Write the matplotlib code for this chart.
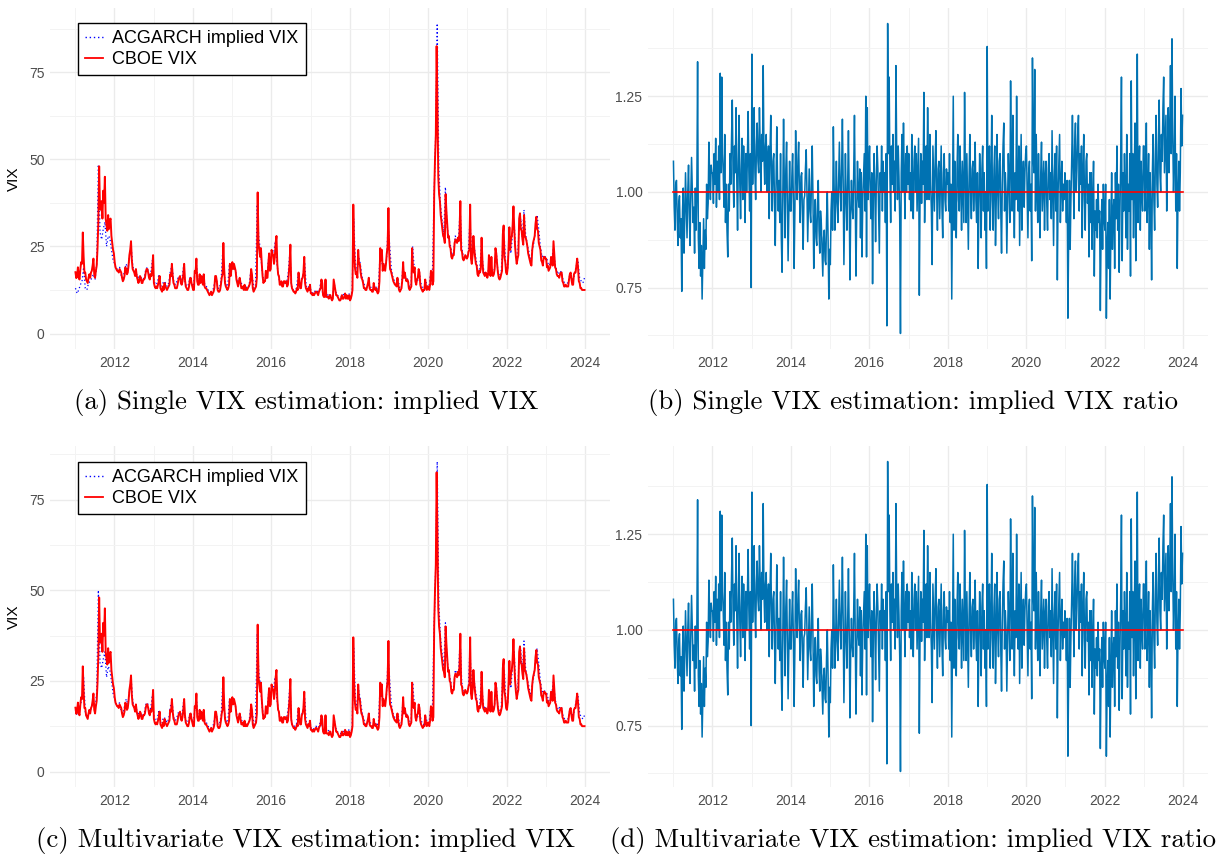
import numpy as np
import pandas as pd
import matplotlib
matplotlib.use("Agg")
import matplotlib.pyplot as plt
from matplotlib.lines import Line2D
from matplotlib.ticker import FixedLocator

# CBOE VIX, four readings per month, Jan 2011 - Dec 2023
cboe_vix = [
    17.6, 15.9, 16.5, 19.0, 16.0, 15.5, 18.5, 20.5, 20.0, 29.0, 22.0, 17.5, 17.5, 15.5, 15.0, 14.5, 16.0, 17.0, 16.0, 17.5, 18.0, 19.5, 21.5, 17.0,
    16.0, 18.0, 19.5, 24.5, 32.0, 48.0, 36.0, 35.5, 38.0, 33.0, 41.0, 37.5, 45.0, 33.0, 31.0, 29.5, 34.0, 30.0, 32.5, 33.0, 28.0, 26.0, 24.0, 23.0,
    20.5, 19.0, 18.5, 18.0, 18.0, 17.5, 18.5, 18.0, 17.5, 16.0, 15.0, 15.5, 16.5, 19.0, 18.5, 17.0, 17.5, 19.5, 22.5, 24.0, 26.5, 21.0, 18.5, 18.0,
    17.5, 16.5, 18.5, 16.5, 15.5, 14.5, 15.0, 16.5, 16.0, 14.5, 14.5, 15.5, 15.5, 16.0, 17.5, 18.5, 18.5, 17.5, 16.0, 15.5, 17.0, 16.5, 18.5, 22.5,
    14.5, 13.5, 13.0, 13.5, 13.0, 14.0, 15.0, 16.5, 13.0, 12.5, 12.0, 13.5, 12.5, 14.5, 13.5, 13.0, 12.5, 13.0, 13.5, 14.0, 17.0, 16.5, 20.0, 16.5,
    14.5, 14.0, 13.0, 13.0, 13.0, 14.0, 15.5, 16.0, 16.5, 14.5, 14.0, 15.0, 17.0, 20.0, 15.5, 13.5, 13.0, 12.5, 12.5, 13.5, 15.5, 16.0, 14.5, 13.5,
    12.5, 12.5, 18.0, 17.5, 21.5, 15.0, 14.0, 14.0, 17.0, 14.5, 16.5, 15.0, 14.0, 17.0, 13.5, 13.0, 13.0, 12.5, 12.0, 11.5, 11.0, 11.5, 12.0, 11.0,
    11.5, 12.0, 13.0, 16.5, 16.5, 15.0, 12.5, 12.0, 12.0, 12.5, 14.0, 16.0, 17.0, 26.0, 18.5, 14.5, 13.5, 13.0, 12.5, 13.0, 14.0, 20.0, 16.5, 19.0,
    20.5, 18.5, 20.0, 19.0, 18.0, 15.5, 14.5, 13.5, 15.0, 16.0, 14.5, 13.0, 13.0, 13.5, 12.5, 14.0, 12.5, 13.0, 12.5, 13.0, 13.5, 14.0, 15.0, 18.5,
    17.0, 13.0, 12.0, 12.5, 13.0, 13.5, 16.0, 40.5, 26.0, 24.0, 22.0, 24.5, 20.0, 16.5, 14.5, 15.0, 15.0, 18.0, 16.0, 16.0, 20.0, 23.0, 18.0, 18.5,
    24.0, 23.0, 22.5, 20.0, 22.0, 26.0, 28.0, 20.0, 17.0, 16.5, 14.0, 14.0, 15.0, 13.5, 13.5, 15.0, 15.0, 14.5, 15.0, 13.5, 14.0, 17.0, 20.0, 25.5,
    14.5, 13.0, 12.5, 12.0, 12.0, 11.5, 12.0, 13.0, 12.5, 17.5, 15.0, 13.0, 13.0, 15.5, 16.0, 17.5, 22.0, 14.5, 13.0, 12.5, 12.0, 13.0, 12.5, 14.0,
    11.5, 11.5, 11.0, 11.5, 11.0, 11.5, 12.0, 12.0, 11.5, 11.0, 12.0, 12.5, 13.0, 15.5, 14.5, 11.0, 10.5, 10.5, 15.5, 10.5, 10.5, 10.5, 10.0, 11.0,
    11.0, 10.0, 9.5, 10.0, 15.5, 14.0, 12.5, 11.0, 11.0, 10.5, 10.0, 9.5, 9.5, 10.0, 11.0, 10.0, 10.0, 10.5, 11.5, 10.0, 11.0, 10.0, 10.0, 11.0,
    9.5, 10.0, 11.0, 12.5, 37.0, 25.0, 19.0, 17.0, 17.5, 16.0, 24.0, 20.0, 20.0, 17.5, 16.0, 15.5, 14.5, 13.0, 13.0, 12.5, 12.5, 13.5, 14.5, 16.0,
    13.0, 12.5, 12.5, 12.0, 12.0, 14.5, 13.0, 12.5, 13.0, 12.0, 11.5, 12.0, 15.0, 24.5, 21.0, 24.0, 18.0, 20.0, 19.0, 18.0, 20.0, 23.0, 25.0, 36.0,
    23.0, 18.5, 18.0, 17.0, 16.0, 15.0, 14.5, 14.0, 14.0, 13.5, 16.0, 14.0, 12.5, 12.0, 12.5, 13.0, 15.5, 20.5, 16.0, 17.5, 16.0, 15.0, 15.5, 15.0,
    13.0, 12.5, 13.0, 13.5, 24.5, 19.0, 17.5, 19.0, 15.0, 14.0, 15.5, 16.0, 18.5, 17.5, 14.0, 13.0, 12.5, 12.0, 12.5, 12.5, 15.5, 13.5, 12.5, 13.5,
    13.5, 12.5, 14.0, 18.0, 17.5, 14.0, 15.0, 40.0, 50.0, 57.0, 82.5, 65.0, 45.0, 40.0, 38.0, 34.0, 32.0, 30.0, 28.0, 27.5, 26.0, 40.0, 35.0, 31.0,
    27.5, 28.0, 25.0, 24.5, 22.0, 21.5, 22.5, 22.5, 26.0, 27.0, 26.5, 26.0, 27.5, 26.5, 29.0, 38.0, 24.0, 23.5, 21.5, 21.0, 21.5, 22.5, 22.0, 21.5,
    22.0, 23.5, 24.0, 37.0, 21.5, 20.0, 22.5, 28.0, 24.5, 22.0, 20.0, 19.5, 17.0, 16.5, 18.0, 17.5, 18.5, 27.5, 21.0, 17.5, 17.0, 16.5, 17.5, 17.0,
    16.0, 17.0, 22.5, 17.5, 16.5, 22.0, 17.0, 16.5, 17.0, 18.5, 24.5, 23.0, 20.0, 17.5, 16.0, 15.5, 16.0, 17.0, 18.0, 28.5, 31.0, 22.0, 20.5, 17.5,
    17.0, 19.0, 24.0, 30.5, 24.0, 27.0, 28.0, 31.0, 36.5, 30.0, 25.0, 22.0, 20.0, 21.5, 22.5, 33.0, 34.5, 30.0, 29.5, 27.0, 25.5, 34.0, 28.0, 27.5,
    26.5, 25.0, 23.0, 22.0, 21.0, 20.0, 19.5, 24.0, 26.0, 27.0, 28.0, 31.5, 33.5, 30.0, 29.5, 26.0, 25.0, 24.0, 21.0, 20.5, 19.5, 22.0, 22.0, 21.5,
    21.5, 19.0, 19.5, 18.0, 18.5, 19.0, 22.0, 21.0, 19.5, 26.5, 22.5, 19.0, 18.5, 17.0, 16.5, 16.5, 16.0, 17.0, 17.5, 17.5, 15.0, 14.5, 13.5, 13.5,
    14.0, 13.5, 13.5, 13.5, 15.5, 17.0, 17.5, 15.5, 14.0, 14.0, 17.0, 17.5, 17.5, 19.5, 21.5, 19.0, 15.0, 14.5, 13.0, 13.0, 12.5, 12.5, 12.5, 12.5,
]

# ACGARCH implied VIX, single estimation (two readings per month)
implied_single = [
    13.0, 11.5, 12.5, 14.0, 15.0, 19.0, 13.0, 12.5, 14.5, 15.0, 16.0, 17.0, 15.5, 20.0, 48.5, 29.0, 27.0, 30.0, 32.0, 25.0, 28.0, 27.5, 24.0, 21.0,
    20.0, 18.5, 18.5, 19.0, 16.5, 16.0, 18.0, 20.0, 18.5, 22.0, 25.0, 19.5, 17.5, 18.0, 15.5, 16.5, 16.0, 15.5, 16.0, 18.5, 19.0, 16.5, 17.5, 21.0,
    15.0, 14.0, 14.5, 17.0, 13.5, 14.0, 15.0, 14.5, 13.5, 14.5, 18.0, 19.5, 15.0, 14.0, 15.0, 16.5, 16.0, 15.5, 19.0, 14.5, 13.5, 14.0, 16.0, 14.5,
    13.5, 17.5, 19.5, 14.5, 16.5, 16.0, 16.5, 14.0, 13.5, 12.5, 12.0, 12.0, 12.5, 14.5, 16.0, 13.0, 13.0, 15.5, 24.0, 16.5, 14.0, 13.5, 19.5, 17.5,
    20.0, 19.0, 17.5, 14.5, 15.5, 15.0, 13.5, 13.5, 13.5, 13.0, 13.5, 17.5, 16.5, 13.0, 14.0, 37.0, 27.5, 24.0, 18.0, 15.0, 15.5, 16.5, 21.5, 18.0,
    23.5, 23.0, 26.0, 20.5, 16.5, 14.5, 15.0, 14.0, 15.0, 14.5, 17.5, 23.5, 13.5, 12.5, 12.5, 13.0, 17.0, 15.5, 15.5, 16.5, 20.5, 13.5, 13.0, 14.0,
    12.0, 11.5, 12.0, 12.5, 12.0, 12.5, 15.0, 11.5, 11.0, 11.0, 11.0, 11.5, 10.5, 10.0, 14.5, 12.0, 11.0, 10.5, 10.5, 10.5, 11.5, 10.5, 10.5, 11.5,
    10.5, 12.0, 33.0, 20.5, 17.5, 22.0, 20.0, 16.5, 14.5, 13.5, 13.0, 14.5, 13.5, 13.0, 12.5, 13.0, 13.5, 12.5, 22.0, 21.0, 18.5, 19.5, 21.0, 31.0,
    25.0, 18.5, 16.0, 15.0, 14.5, 16.0, 13.0, 13.0, 19.0, 16.0, 16.0, 15.5, 13.5, 13.5, 25.0, 18.5, 15.5, 15.0, 18.0, 14.5, 13.0, 13.0, 15.0, 13.5,
    13.5, 17.5, 16.0, 38.0, 56.0, 89.0, 47.0, 37.0, 32.5, 28.5, 42.0, 31.0, 27.5, 25.5, 22.5, 23.0, 28.0, 27.0, 27.0, 36.0, 24.5, 22.0, 22.0, 22.0,
    23.0, 33.0, 22.5, 26.5, 23.5, 20.5, 17.5, 18.5, 25.5, 19.0, 17.5, 17.5, 17.0, 21.0, 17.0, 17.5, 18.5, 24.0, 18.0, 16.5, 17.0, 25.0, 27.0, 18.5,
    18.5, 27.0, 23.0, 28.5, 32.0, 23.0, 21.0, 30.0, 33.0, 27.5, 35.5, 28.5, 25.5, 23.5, 20.5, 24.0, 26.0, 30.0, 34.0, 30.0, 25.0, 22.0, 22.5, 22.0,
    21.5, 19.5, 20.0, 21.5, 24.5, 20.0, 18.0, 17.0, 18.0, 17.5, 15.0, 14.5, 14.5, 14.5, 17.0, 16.5, 15.0, 17.5, 19.5, 20.5, 16.0, 15.0, 14.5, 16.0,
]

# ACGARCH implied VIX, multivariate estimation (two readings per month)
implied_multi = [
    17.0, 15.5, 16.0, 18.5, 20.0, 26.0, 16.5, 15.0, 16.0, 16.5, 18.0, 19.5, 17.0, 22.0, 50.0, 30.0, 28.5, 31.0, 33.0, 26.0, 29.0, 28.0, 25.0, 21.5,
    20.0, 18.5, 18.5, 19.0, 16.5, 16.0, 18.0, 20.0, 18.5, 22.0, 25.5, 19.5, 17.5, 18.0, 15.5, 16.5, 16.0, 15.5, 16.0, 18.5, 19.0, 16.5, 17.5, 21.0,
    15.0, 14.0, 14.5, 17.0, 13.5, 14.0, 15.0, 14.5, 13.5, 14.5, 18.0, 19.5, 15.0, 14.0, 15.0, 16.5, 16.0, 15.5, 19.0, 14.5, 13.5, 14.0, 16.0, 14.5,
    13.5, 17.5, 19.5, 14.5, 16.5, 16.0, 16.5, 14.0, 13.5, 12.5, 12.0, 12.0, 12.5, 14.5, 16.0, 13.0, 13.0, 15.5, 24.5, 16.5, 14.0, 13.5, 19.5, 17.5,
    20.0, 19.0, 17.5, 14.5, 15.5, 15.0, 13.5, 13.5, 13.5, 13.0, 13.5, 17.5, 16.5, 13.0, 14.0, 38.0, 27.5, 24.0, 18.0, 15.0, 15.5, 16.5, 21.5, 18.0,
    23.5, 23.0, 26.0, 20.5, 16.5, 14.5, 15.0, 14.0, 15.0, 14.5, 17.5, 24.0, 13.5, 12.5, 12.5, 13.0, 17.0, 15.5, 15.5, 16.5, 20.5, 13.5, 13.0, 14.0,
    12.0, 11.5, 12.0, 12.5, 12.0, 12.5, 15.0, 11.5, 11.0, 11.0, 11.0, 11.5, 10.5, 10.0, 14.5, 12.0, 11.0, 10.5, 10.5, 10.5, 11.5, 10.5, 10.5, 11.5,
    10.5, 12.0, 34.0, 20.5, 17.5, 22.5, 20.0, 16.5, 14.5, 13.5, 13.0, 14.5, 13.5, 13.0, 12.5, 13.0, 13.5, 12.5, 22.5, 21.0, 18.5, 19.5, 21.0, 32.0,
    25.0, 18.5, 16.0, 15.0, 14.5, 16.0, 13.0, 13.0, 19.0, 16.0, 16.0, 15.5, 13.5, 13.5, 24.5, 18.5, 15.5, 15.0, 18.0, 14.5, 13.0, 13.0, 15.0, 13.5,
    13.5, 17.5, 16.0, 38.5, 55.0, 85.5, 46.0, 37.0, 32.5, 28.5, 41.0, 31.0, 27.5, 25.5, 22.5, 23.0, 28.0, 27.0, 27.0, 36.5, 24.5, 22.0, 22.0, 22.0,
    23.0, 34.0, 22.5, 27.0, 23.5, 20.5, 17.5, 18.5, 26.0, 19.0, 17.5, 17.5, 17.0, 21.5, 17.0, 17.5, 18.5, 24.5, 18.0, 16.5, 17.0, 26.0, 28.0, 18.5,
    18.5, 28.0, 23.0, 29.0, 33.0, 23.0, 21.0, 30.5, 33.5, 27.5, 36.0, 28.5, 25.5, 23.5, 20.5, 24.0, 26.0, 30.5, 34.0, 30.0, 25.0, 22.0, 22.5, 22.0,
    21.5, 19.5, 20.0, 21.5, 25.0, 20.0, 18.0, 17.0, 18.0, 17.5, 15.0, 14.5, 14.5, 14.5, 17.0, 16.5, 15.0, 17.5, 19.5, 21.0, 16.0, 15.0, 14.5, 15.5,
]

# implied / CBOE VIX ratio, weekly
vix_ratio = [
    1.08, 0.96, 0.90, 1.02, 1.03, 0.93, 0.86, 0.97, 0.99, 0.88, 0.93, 0.74, 0.95,
    1.01, 0.84, 0.93, 1.05, 0.96, 0.88, 1.00, 1.07, 0.94, 0.86, 0.99, 1.09, 1.00,
    0.92, 0.96, 0.84, 1.01, 0.90, 1.00, 1.34, 0.88, 0.80, 0.92, 0.78, 0.86, 0.72,
    0.83, 0.93, 0.80, 0.90, 0.85, 1.02, 0.93, 0.97, 1.13, 1.04, 0.98, 1.07, 1.05,
    1.05, 0.97, 1.10, 1.02, 1.14, 0.96, 1.08, 1.00, 1.12, 0.98, 1.31, 1.05, 1.30,
    1.10, 1.05, 0.96, 1.15, 0.92, 1.02, 0.90, 0.83, 1.02, 0.95, 1.10, 1.02, 1.14,
    1.24, 1.05, 0.96, 1.12, 1.05, 1.22, 1.03, 0.90, 1.08, 1.20, 1.02, 0.93, 1.06,
    1.14, 0.98, 1.12, 1.05, 0.92, 1.10, 1.00, 1.08, 1.21, 1.05, 0.95, 1.10, 0.75,
    1.36, 1.02, 1.15, 1.22, 1.05, 0.98, 1.12, 1.18, 1.08, 1.05, 1.22, 1.12, 1.00,
    1.15, 1.08, 1.33, 1.10, 1.02, 1.12, 1.15, 1.00, 1.08, 1.12, 0.93, 1.10, 1.20,
    1.05, 0.95, 1.08, 1.10, 0.97, 0.86, 1.02, 1.17, 1.03, 0.95, 1.03, 0.92, 1.10,
    0.88, 0.79, 1.00, 1.19, 1.02, 0.88, 1.06, 1.13, 0.97, 0.82, 0.96, 1.08, 0.95,
    0.95, 1.04, 1.10, 0.98, 0.80, 0.95, 1.16, 1.05, 0.98, 1.08, 1.13, 1.00, 0.92,
    1.04, 1.05, 0.94, 0.85, 0.98, 0.99, 1.06, 1.11, 1.00, 0.87, 0.97, 1.06, 0.95,
    0.92, 1.03, 1.12, 0.98, 0.80, 0.92, 0.98, 0.88, 0.86, 0.97, 1.03, 0.90, 0.84,
    0.95, 0.92, 0.85, 0.78, 0.88, 0.90, 0.82, 0.81, 0.93, 1.00, 0.88, 0.72, 0.85,
    0.81, 0.95, 1.00, 0.90, 1.17, 1.02, 0.90, 0.98, 1.08, 0.97, 0.92, 1.03, 1.13,
    1.01, 0.95, 1.06, 1.19, 1.03, 0.81, 0.96, 1.10, 0.98, 0.90, 1.02, 1.16, 1.00,
    0.77, 0.94, 1.03, 0.96, 0.93, 1.05, 1.20, 1.00, 0.78, 0.95, 1.08, 0.99, 0.96,
    1.06, 0.88, 1.05, 0.83, 0.98, 1.04, 1.10, 0.95, 1.25, 0.83, 1.22, 0.98, 1.06,
    1.12, 1.00, 0.93, 1.05, 0.76, 0.98, 1.10, 1.01, 0.87, 1.03, 1.12, 1.06, 0.95,
    0.84, 1.05, 1.00, 1.12, 0.95, 1.08, 1.00, 1.05, 0.92, 1.10, 0.65, 1.44, 1.10,
    1.30, 1.05, 0.92, 1.12, 1.02, 1.15, 1.00, 1.08, 0.95, 1.33, 1.10, 0.98, 1.12,
    1.04, 0.93, 0.63, 1.05, 1.15, 1.00, 1.18, 1.04, 0.93, 1.10, 1.00, 1.12, 1.02,
    1.10, 0.98, 1.05, 0.95, 1.15, 1.02, 0.93, 1.08, 1.12, 1.00, 1.10, 0.95, 1.05,
    1.14, 0.73, 1.00, 1.10, 0.97, 1.08, 1.02, 1.26, 0.92, 1.05, 1.12, 0.98, 1.22,
    1.06, 0.98, 1.15, 1.02, 0.95, 0.81, 1.12, 1.03, 0.95, 1.08, 1.16, 1.00, 0.90,
    1.06, 1.08, 0.93, 1.02, 1.12, 0.96, 0.88, 1.05, 1.10, 0.98, 0.95, 1.06, 1.02,
    1.05, 0.95, 1.10, 0.92, 1.02, 0.72, 1.00, 1.25, 0.90, 1.08, 0.95, 0.88, 1.06,
    1.15, 0.98, 0.95, 1.12, 1.02, 0.90, 1.08, 1.00, 0.92, 1.26, 1.05, 0.92, 1.10,
    0.98, 0.85, 1.04, 1.15, 1.00, 0.93, 1.06, 1.08, 0.95, 1.02, 1.13, 0.98, 0.92,
    1.05, 0.80, 0.97, 1.10, 1.02, 0.88, 1.06, 1.12, 0.95, 1.05, 0.90, 1.00, 0.80,
    1.38, 0.95, 1.05, 1.12, 0.90, 1.02, 1.20, 0.98, 0.90, 1.06, 1.12, 0.86, 0.98,
    1.15, 1.00, 0.93, 1.08, 1.10, 0.95, 0.84, 1.02, 1.12, 1.18, 0.95, 1.05, 1.00,
    0.84, 0.98, 1.10, 1.02, 0.92, 1.29, 1.08, 0.95, 1.20, 1.00, 0.88, 1.05, 0.98,
    1.25, 1.02, 0.95, 1.12, 0.86, 1.00, 1.15, 0.90, 1.02, 1.08, 0.96, 1.05, 1.10,
    1.12, 1.00, 0.88, 1.05, 1.08, 0.95, 1.02, 0.82, 1.35, 1.10, 1.05, 1.32, 0.95,
    1.15, 1.02, 0.92, 1.10, 0.98, 0.88, 1.05, 1.13, 0.95, 1.02, 1.08, 0.90, 1.04,
    1.08, 0.97, 0.90, 1.06, 1.10, 0.98, 1.05, 0.93, 1.16, 1.00, 0.86, 1.04, 1.10,
    0.95, 1.12, 0.77, 1.00, 1.08, 1.15, 0.92, 1.02, 1.08, 0.95, 1.02, 0.98, 1.05,
    1.00, 0.92, 1.03, 0.67, 0.88, 1.03, 0.85, 0.98, 1.08, 1.20, 1.05, 0.93, 1.12,
    1.18, 1.00, 1.06, 1.15, 1.20, 0.95, 1.10, 1.02, 1.12, 0.88, 1.05, 1.15, 0.98,
    0.90, 1.08, 1.10, 0.97, 1.02, 0.83, 1.05, 0.92, 1.05, 0.85, 0.98, 1.08, 0.78,
    0.95, 0.90, 0.98, 0.88, 1.02, 0.92, 0.95, 0.69, 0.90, 0.98, 0.85, 1.02, 0.93,
    0.90, 1.02, 0.67, 0.85, 0.92, 0.80, 0.98, 0.72, 0.90, 1.05, 0.85, 0.95, 0.98,
    0.80, 1.05, 0.93, 1.12, 0.90, 1.02, 0.79, 0.95, 1.08, 1.30, 0.82, 1.05, 0.95,
    1.10, 1.00, 0.88, 1.15, 0.85, 1.02, 0.95, 1.10, 0.78, 1.29, 0.98, 1.10, 0.88,
    1.05, 1.18, 0.82, 0.98, 1.36, 0.92, 1.05, 1.12, 0.90, 1.08, 1.00, 0.95, 1.12,
    1.12, 0.95, 1.05, 1.18, 0.92, 1.00, 1.10, 0.85, 1.05, 0.95, 0.77, 1.05, 1.15,
    0.98, 0.90, 1.10, 1.20, 1.02, 0.96, 1.12, 1.24, 1.05, 1.00, 1.15, 1.08, 1.22,
    1.30, 1.05, 1.12, 1.20, 0.95, 1.10, 1.22, 1.05, 1.15, 1.33, 1.10, 1.40, 1.15,
    1.00, 1.08, 1.25, 0.95, 1.10, 0.80, 1.00, 1.08, 0.95, 1.05, 1.27, 1.12, 1.20,
]

start, end = "2011-01-03", "2023-12-29"
captions = [
    "(a) Single VIX estimation: implied VIX",
    "(b) Single VIX estimation: implied VIX ratio",
    "(c) Multivariate VIX estimation: implied VIX",
    "(d) Multivariate VIX estimation: implied VIX ratio",
]

TICK_GREY = "#4D4D4D"
plt.rcParams["font.family"] = ["Liberation Sans", "DejaVu Sans"]

fig = plt.figure(figsize=(12.25, 8.57), dpi=100)
W, H = 1225, 857


def px_axes(x0, y0, x1, y1):
    return fig.add_axes([x0 / W, 1 - y1 / H, (x1 - x0) / W, (y1 - y0) / H])


def padded(lo, hi, frac=0.05):
    d = (hi - lo) * frac
    return lo - d, hi + d


def style(ax, major_y, minor_y, ylabels):
    first, last = pd.Timestamp(start), pd.Timestamp(end)
    ax.set_xlim(*padded(first, last))
    years = pd.to_datetime([f"{y}-01-01" for y in range(2011, 2025)])
    ax.xaxis.set_major_locator(FixedLocator(matplotlib.dates.date2num(years[1::2])))
    ax.xaxis.set_minor_locator(FixedLocator(matplotlib.dates.date2num(years[0::2])))
    ax.set_xticklabels([str(y.year) for y in years[1::2]])
    ax.yaxis.set_major_locator(FixedLocator(major_y))
    ax.yaxis.set_minor_locator(FixedLocator(minor_y))
    ax.set_yticklabels(ylabels)
    ax.grid(which="major", color="#EBEBEB", lw=1.0)
    ax.grid(which="minor", color="#F3F3F3", lw=0.7)
    ax.set_axisbelow(True)
    for s in ax.spines.values():
        s.set_visible(False)
    ax.tick_params(which="both", length=0, labelsize=10, labelcolor=TICK_GREY)
    ax.tick_params(axis="x", pad=5)
    ax.tick_params(axis="y", pad=4)


def vix_panel(ax, implied, cboe, legend_top):
    d_imp = pd.date_range(start, end, periods=len(implied))
    d_cboe = pd.date_range(start, end, periods=len(cboe))
    ax.plot(d_imp, implied, color="blue", ls=(0, (1, 2)), lw=0.9)
    ax.plot(d_cboe, cboe, color="red", lw=1.4)
    ax.set_ylim(*padded(0, max(max(implied), max(cboe))))
    style(ax, [0, 25, 50, 75], [12.5, 37.5, 62.5, 87.5], ["0", "25", "50", "75"])
    ax.set_ylabel("VIX", fontsize=11, color="black", labelpad=6)
    handles = [Line2D([], [], color="blue", ls=(0, (1, 2)), lw=1.0),
               Line2D([], [], color="red", lw=1.3)]
    leg = ax.legend(handles, ["ACGARCH implied VIX", "CBOE VIX"],
                    loc="upper left", bbox_to_anchor=(78 / W, 1 - legend_top / H),
                    bbox_transform=fig.transFigure, fontsize=13, frameon=True,
                    fancybox=False, edgecolor="black", framealpha=1,
                    handlelength=1.0, handletextpad=0.5, borderpad=0.4,
                    labelspacing=0.22, borderaxespad=0)
    leg.get_frame().set_linewidth(1.0)


def ratio_panel(ax, ratio):
    dates = pd.date_range(start, end, periods=len(ratio))
    ax.plot(dates, ratio, color="#0072B2", lw=1.1)
    ax.plot([dates[0], dates[-1]], [1, 1], color="red", lw=1.2)
    ax.set_ylim(*padded(min(ratio), max(ratio)))
    style(ax, [0.75, 1.0, 1.25], [0.625, 0.875, 1.125, 1.375], ["0.75", "1.00", "1.25"])


ax_a = px_axes(50, 8, 610, 349)
ax_b = px_axes(648, 8, 1208, 349)
ax_c = px_axes(50, 446, 610, 787)
ax_d = px_axes(648, 446, 1208, 787)

vix_panel(ax_a, implied_single, cboe_vix, 23)
ratio_panel(ax_b, vix_ratio)
vix_panel(ax_c, implied_multi, cboe_vix, 462)
ratio_panel(ax_d, vix_ratio)

# sub-figure captions
for (cx, cy), text in zip([(306, 403), (913, 403), (306, 840), (913, 840)], captions):
    fig.text(cx / W, 1 - cy / H, text, ha="center", va="center",
             fontsize=19.3, family="cmr10")

fig.savefig("out.png", dpi=100)
